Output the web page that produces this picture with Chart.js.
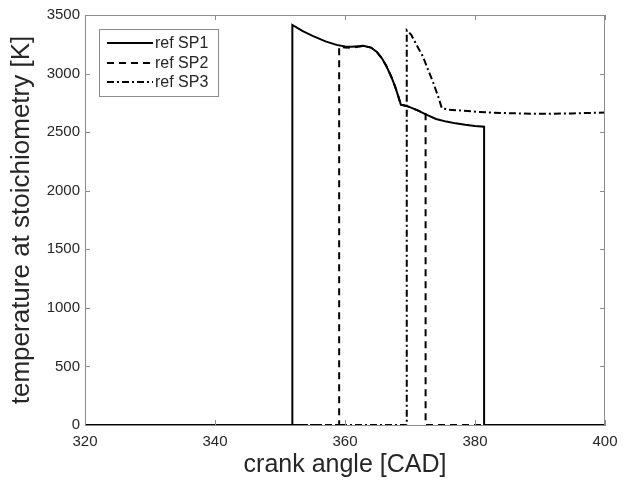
<!DOCTYPE html>
<html>
<head>
<meta charset="utf-8">
<script src="https://cdn.jsdelivr.net/npm/chart.js@4/dist/chart.umd.min.js"></script>
<style>
  html, body { margin: 0; padding: 0; background: #fff; }
  #wrap { width: 630px; height: 482px; }
</style>
</head>
<body>
<div id="wrap"><canvas id="myChart" width="630" height="482"></canvas></div>
<script>
// crank angle [CAD] / temperature [K] for each case
const sp1X = [320, 351.9, 351.9, 353.5, 355.1, 357, 358.7, 360, 361, 362, 362.8, 364, 364.9, 365.7, 366.4, 367.1, 367.7, 368.2, 368.6, 369.5, 371, 372.6, 374, 375.6, 377, 378.5, 380, 381.4, 381.4, 400];
const sp1Y = [0, 0, 3415, 3362, 3320, 3275, 3245, 3232, 3230, 3234, 3238, 3222, 3185, 3128, 3060, 2975, 2890, 2805, 2733, 2724, 2690, 2647, 2612, 2590, 2575, 2563, 2553, 2547, 0, 0];

const sp2X = [320, 359.1, 359.1, 360, 361, 362, 362.8, 364, 364.9, 365.7, 366.4, 367.1, 367.7, 368.2, 368.6, 369.5, 371, 372.4, 372.4, 400];
const sp2Y = [0, 0, 3228, 3222, 3220, 3228, 3236, 3222, 3185, 3128, 3060, 2975, 2890, 2805, 2735, 2722, 2690, 2655, 0, 0];

const sp3X = [320, 369.5, 369.5, 370.2, 371, 372, 372.8, 373.6, 374.3, 374.9, 376, 377.5, 379.7, 382, 385, 390, 395, 400];
const sp3Y = [0, 0, 3370, 3330, 3245, 3145, 3030, 2918, 2810, 2704, 2692, 2686, 2676, 2668, 2662, 2656, 2660, 2667];

const seriesNames = ['ref SP1', 'ref SP2', 'ref SP3'];
const xTicks = [320, 340, 360, 380, 400];
const yTicks = [0, 500, 1000, 1500, 2000, 2500, 3000, 3500];

const dashes = [[], [7, 5], [7, 3, 2, 3]];
const textColor = '#262626';
const boxColor = '#8c8c8c';
const fontFam = '"Liberation Sans", Arial, sans-serif';

function pts(xs, ys) {
  return xs.map((x, i) => ({ x: x, y: ys[i] }));
}

const allData = [pts(sp1X, sp1Y), pts(sp2X, sp2Y), pts(sp3X, sp3Y)];

// MATLAB style box with inward ticks on all four sides
const boxPlugin = {
  id: 'boxPlugin',
  afterDatasetsDraw(chart) {
    const { ctx, chartArea: a, scales } = chart;
    ctx.save();
    ctx.strokeStyle = boxColor;
    ctx.lineWidth = 1;
    ctx.beginPath();
    ctx.moveTo(a.left, a.top + 0.5);
    ctx.lineTo(a.right, a.top + 0.5);
    ctx.moveTo(a.right - 0.5, a.top);
    ctx.lineTo(a.right - 0.5, a.bottom);
    xTicks.forEach(v => {
      const px = Math.round(scales.x.getPixelForValue(v)) + 0.5;
      ctx.moveTo(px, a.bottom);
      ctx.lineTo(px, a.bottom - 5);
      ctx.moveTo(px, a.top);
      ctx.lineTo(px, a.top + 5);
    });
    yTicks.forEach(v => {
      const py = Math.round(scales.y.getPixelForValue(v)) + 0.5;
      ctx.moveTo(a.left, py);
      ctx.lineTo(a.left + 5, py);
      ctx.moveTo(a.right, py);
      ctx.lineTo(a.right - 5, py);
    });
    ctx.stroke();

    // legend box
    const lx = 99, ly = 29, lw = 119, lh = 67;
    ctx.fillStyle = '#fff';
    ctx.fillRect(lx, ly, lw, lh);
    ctx.strokeStyle = '#8c8c8c';
    ctx.strokeRect(lx + 0.5, ly + 0.5, lw, lh);
    const rows = [43, 63, 82];
    ctx.font = '16px ' + fontFam;
    ctx.textBaseline = 'middle';
    ctx.fillStyle = textColor;
    seriesNames.forEach((name, i) => {
      ctx.beginPath();
      ctx.strokeStyle = '#000';
      ctx.lineWidth = 2;
      ctx.setLineDash(dashes[i]);
      ctx.moveTo(107, rows[i]);
      ctx.lineTo(153, rows[i]);
      ctx.stroke();
      ctx.setLineDash([]);
      ctx.fillText(name, 155, rows[i] + 1);
    });
    ctx.restore();
  }
};

const ctx = document.getElementById('myChart').getContext('2d');

const myChart = new Chart(ctx, {
  type: 'line',
  data: {
    datasets: allData.map((d, i) => ({
      label: seriesNames[i],
      data: d,
      borderColor: '#000',
      borderWidth: 2,
      borderDash: dashes[i],
      pointRadius: 0,
      tension: 0,
      fill: false
    }))
  },
  options: {
    responsive: false,
    animation: false,
    layout: { padding: { top: 15, right: 25, left: 0, bottom: 0 } },
    plugins: {
      legend: { display: false },
      tooltip: { enabled: false }
    },
    scales: {
      x: {
        type: 'linear',
        min: 320,
        max: 400,
        afterFit: s => { s.height = 57; },
        afterBuildTicks: s => { s.ticks = xTicks.map(v => ({ value: v })); },
        grid: { display: false, drawTicks: false },
        border: { display: true, color: boxColor, width: 1 },
        ticks: { padding: 8, color: textColor, font: { size: 15, family: fontFam }, callback: v => String(v) },
        title: {
          display: true,
          text: 'crank angle [CAD]',
          color: textColor,
          font: { size: 25, family: fontFam },
          padding: { top: 0, bottom: 2 }
        }
      },
      y: {
        min: 0,
        max: 3500,
        afterFit: s => { s.width = 85; },
        afterBuildTicks: s => { s.ticks = yTicks.map(v => ({ value: v })); },
        grid: { display: false, drawTicks: false },
        border: { display: true, color: boxColor, width: 1 },
        ticks: { padding: 5, color: textColor, font: { size: 15, family: fontFam }, callback: v => String(v) },
        title: {
          display: true,
          text: 'temperature at stoichiometry [K]',
          color: textColor,
          font: { size: 26, family: fontFam },
          padding: { top: 6, bottom: 0 }
        }
      }
    }
  },
  plugins: [boxPlugin]
});
</script>
</body>
</html>
